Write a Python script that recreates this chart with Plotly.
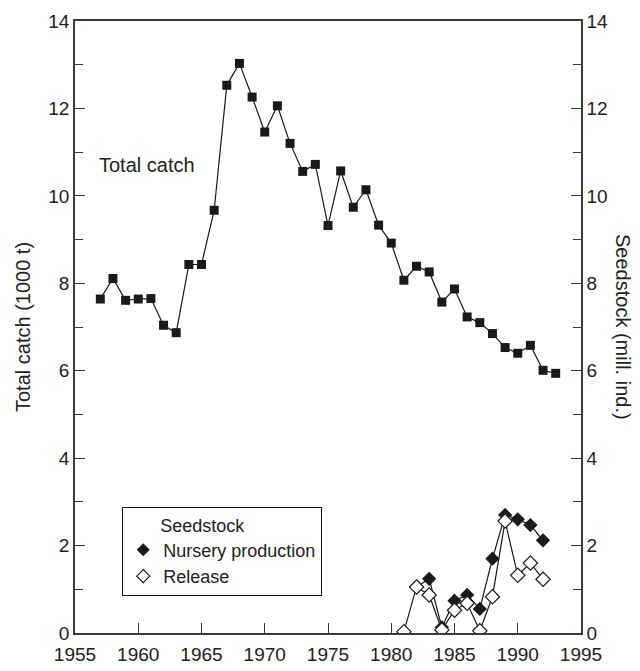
import plotly.graph_objects as go

# Total catch (1000 t), 1957-1993
catch_years = list(range(1957, 1994))
total_catch = [7.64, 8.11, 7.61, 7.64, 7.65, 7.04, 6.87, 8.43, 8.43, 9.67,
               12.53, 13.03, 12.26, 11.46, 12.06, 11.20, 10.56, 10.72, 9.32, 10.57,
               9.74, 10.14, 9.33, 8.92, 8.07, 8.39, 8.26, 7.57, 7.87, 7.23,
               7.10, 6.85, 6.53, 6.40, 6.58, 6.01, 5.94]

# Seedstock (mill. ind.)
nursery_years = list(range(1982, 1993))
nursery = [1.05, 1.24, 0.13, 0.74, 0.87, 0.55, 1.70, 2.70, 2.60, 2.47, 2.12]
release_years = list(range(1981, 1993))
release = [0.03, 1.05, 0.87, 0.07, 0.52, 0.68, 0.05, 0.83, 2.56, 1.32, 1.60, 1.23]

INK = "#1a1a1a"
AXIS = "#3a3a3a"
FONT = "Liberation Sans, Arial, Helvetica, sans-serif"

# page body has a small margin, so the figure is sized to fit the window
OFFX, OFFY = 7, 8
W, H = 640 - OFFX, 671 - OFFY
ML, MT = 74 - OFFX, 21 - OFFY
PW, PH = 506, 612
MR, MB = W - ML - PW, H - MT - PH

fig = go.Figure()

fig.add_trace(go.Scatter(x=catch_years, y=total_catch, mode="lines+markers",
                         line=dict(color=INK, width=1.2),
                         marker=dict(symbol="square", size=9, color=INK),
                         showlegend=False, name="Total catch"))

fig.add_trace(go.Scatter(x=nursery_years, y=nursery, mode="lines+markers", yaxis="y2",
                         line=dict(color=INK, width=1.2),
                         marker=dict(symbol="diamond", size=11, color=INK),
                         showlegend=False, name="Nursery production"))

fig.add_trace(go.Scatter(x=release_years, y=release, mode="lines+markers", yaxis="y2",
                         line=dict(color=INK, width=1.2),
                         marker=dict(symbol="diamond", size=11, color="white",
                                     line=dict(color=INK, width=1.2)),
                         showlegend=False, name="Release"))

# legend entries (markers only)
fig.add_trace(go.Scatter(x=[None], y=[None], mode="markers", name="Nursery production",
                         marker=dict(symbol="diamond", size=10, color=INK)))
fig.add_trace(go.Scatter(x=[None], y=[None], mode="markers", name="Release",
                         marker=dict(symbol="diamond", size=10, color="white",
                                     line=dict(color=INK, width=1.2))))

axis_common = dict(showline=True, linecolor=AXIS, linewidth=1.5, ticks="inside",
                   ticklen=10, tickwidth=1.2, tickcolor=AXIS, showgrid=False,
                   zeroline=False, automargin=False,
                   tickfont=dict(size=19, color="#222"))


def to_paper(px, py):
    # px, py are window pixels
    return (px - OFFX - ML) / PW, (MT + PH - (py - OFFY)) / PH


lx, ly = to_paper(22, 327)
rx, ry = to_paper(622, 327)

fig.update_layout(
    width=W, height=H,
    margin=dict(l=ML, r=MR, t=MT, b=MB),
    paper_bgcolor="white", plot_bgcolor="white",
    font=dict(family=FONT, size=20, color="#222"),
    xaxis=dict(range=[1955, 1995], dtick=5, tick0=1955, mirror=True,
               ticklabelstandoff=3, **axis_common),
    yaxis=dict(range=[0, 14], dtick=2, tick0=0,
               minor=dict(dtick=1, ticks="inside", ticklen=8, tickcolor=AXIS),
               **axis_common),
    yaxis2=dict(range=[0, 14], dtick=2, tick0=0, overlaying="y", side="right",
                minor=dict(dtick=1, ticks="inside", ticklen=8, tickcolor=AXIS),
                **axis_common),
    legend=dict(x=0.093, y=0.206, xanchor="left", yanchor="top",
                bordercolor=INK, borderwidth=1.2, bgcolor="white",
                title=dict(text="\u00a0" * 7 + "Seedstock", font=dict(size=18)),
                font=dict(size=18), tracegroupgap=0, itemwidth=30),
    annotations=[
        dict(text="Total catch", x=1956.7, y=10.7, xref="x", yref="y",
             xanchor="left", yanchor="middle", showarrow=False, font=dict(size=20)),
        dict(text="Total catch (1000 t)", x=lx, y=ly, xref="paper", yref="paper",
             xanchor="center", yanchor="middle",
             showarrow=False, textangle=-90, font=dict(size=20)),
        dict(text="Seedstock (mill. ind.)", x=rx, y=ry, xref="paper", yref="paper",
             xanchor="center", yanchor="middle",
             showarrow=False, textangle=90, font=dict(size=20)),
    ],
)

fig.write_html("out.html")
